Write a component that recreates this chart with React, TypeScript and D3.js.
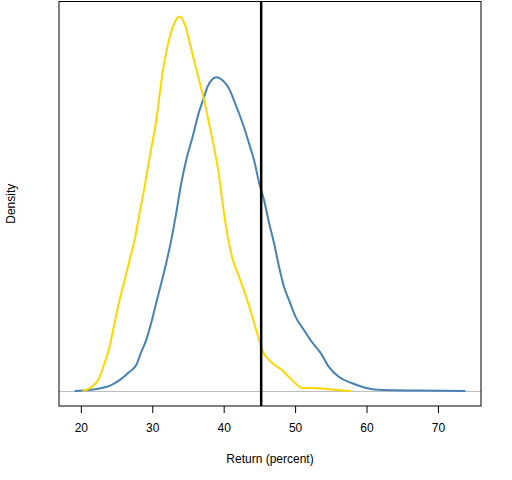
import { useEffect, useRef } from 'react';
import * as d3 from 'd3';

// return (percent) vs estimated density
const goldReturn = [20.25, 21.23, 22.63, 23.32, 24.02, 24.72, 25.42, 26.12, 26.82, 27.51, 28.21, 28.91, 29.61, 30.54, 31.42, 32.4, 33.1, 33.8, 34.5, 35.2, 35.89, 36.59, 37.29, 37.99, 38.69, 39.39, 39.8, 40.5, 41.2, 42.18, 43.3, 44.27, 44.97, 45.39, 46.65, 48.18, 49.58, 50.98, 52.4, 53.77, 55.73, 57.8];
const goldDensity = [0, 0.0005, 0.0027, 0.0054, 0.0085, 0.0131, 0.0175, 0.0213, 0.0252, 0.029, 0.0342, 0.0392, 0.0449, 0.052, 0.0611, 0.068, 0.0709, 0.0722, 0.0709, 0.0674, 0.0635, 0.0597, 0.0559, 0.0513, 0.0467, 0.0411, 0.0367, 0.0303, 0.0257, 0.0219, 0.0175, 0.0131, 0.0098, 0.0079, 0.0056, 0.004, 0.0021, 0.0006, 0.0006, 0.0005, 0.0002, 0];

const blueReturn = [19.13, 21.23, 22.63, 24.02, 25.42, 26.82, 27.75, 28.45, 29.15, 29.85, 30.54, 31.24, 31.94, 32.64, 33.34, 34.04, 34.73, 35.61, 36.59, 37.29, 37.71, 38.41, 38.97, 39.66, 40.78, 41.48, 42.18, 42.88, 43.58, 44.27, 44.97, 45.67, 46.37, 47.07, 47.77, 48.46, 49.16, 50.1, 51.26, 52.38, 53.59, 54.75, 56.15, 57.99, 59.94, 62.18, 67.3, 73.84];
const blueDensity = [0, 0.0002, 0.0005, 0.001, 0.0021, 0.0037, 0.005, 0.0075, 0.0098, 0.0131, 0.0169, 0.0207, 0.0246, 0.029, 0.0342, 0.0399, 0.0444, 0.0488, 0.054, 0.0568, 0.0586, 0.0601, 0.0605, 0.0601, 0.0582, 0.0559, 0.0534, 0.0507, 0.0476, 0.0444, 0.0401, 0.0367, 0.0323, 0.0284, 0.0238, 0.02, 0.0175, 0.0142, 0.0117, 0.0094, 0.0073, 0.0046, 0.0027, 0.0015, 0.0006, 0.0002, 0.0001, 0];

const xTicks = [20, 30, 40, 50, 60, 70];
const actualReturn = 45.25;

export default function App() {
  const svgRef = useRef<SVGSVGElement | null>(null);

  useEffect(() => {
    const svg = svgRef.current;
    if (!svg) return;

    const width = 512;
    const height = 480;
    const box = { left: 59, right: 481, top: 1.5, bottom: 406 };
    const font = 'Arial, "Liberation Sans", sans-serif';

    const allX = [...goldReturn, ...blueReturn];
    const xmin = d3.min(allX)!;
    const xmax = d3.max(allX)!;
    const xpad = (xmax - xmin) * 0.04;
    const x = d3.scaleLinear().domain([xmin - xpad, xmax + xpad]).range([box.left, box.right]);

    const ymax = d3.max([...goldDensity, ...blueDensity])!;
    const y = d3
      .scaleLinear()
      .domain([-ymax * 0.04, ymax * 1.04])
      .range([box.bottom, box.top]);

    const root = d3.select(svg);
    root.selectAll('*').remove();
    root.attr('viewBox', `0 0 ${width} ${height}`);

    root.append('rect').attr('width', width).attr('height', height).attr('fill', '#ffffff');

    // zero line
    root
      .append('line')
      .attr('x1', box.left)
      .attr('x2', box.right)
      .attr('y1', Math.round(y(0)) + 0.5)
      .attr('y2', Math.round(y(0)) + 0.5)
      .attr('stroke', '#bebebe')
      .attr('stroke-width', 1);

    const line = d3
      .line<[number, number]>()
      .x((d) => x(d[0]))
      .y((d) => y(d[1]))
      .curve(d3.curveMonotoneX);

    root
      .append('path')
      .datum(blueReturn.map((v, i) => [v, blueDensity[i]] as [number, number]))
      .attr('fill', 'none')
      .attr('stroke', '#4682b4')
      .attr('stroke-width', 2)
      .attr('d', line as any);

    root
      .append('path')
      .datum(goldReturn.map((v, i) => [v, goldDensity[i]] as [number, number]))
      .attr('fill', 'none')
      .attr('stroke', '#ffd700')
      .attr('stroke-width', 2)
      .attr('d', line as any);

    root
      .append('line')
      .attr('x1', x(actualReturn))
      .attr('x2', x(actualReturn))
      .attr('y1', box.top)
      .attr('y2', box.bottom)
      .attr('stroke', '#000000')
      .attr('stroke-width', 2.5);

    root
      .append('rect')
      .attr('x', box.left)
      .attr('y', box.top)
      .attr('width', box.right - box.left)
      .attr('height', box.bottom - box.top)
      .attr('fill', 'none')
      .attr('stroke', '#000000')
      .attr('stroke-width', 1);

    const axis = root
      .append('g')
      .attr('transform', `translate(0,${box.bottom})`)
      .call(d3.axisBottom(x).tickValues(xTicks).tickSize(7).tickPadding(10).tickFormat(d3.format('d')));
    axis.select('.domain').remove();
    axis.selectAll('line').attr('stroke', '#000000');
    axis
      .selectAll('text')
      .attr('fill', '#000000')
      .attr('font-family', font)
      .attr('font-size', 12);

    root
      .append('text')
      .attr('x', (box.left + box.right) / 2)
      .attr('y', 463)
      .attr('text-anchor', 'middle')
      .attr('font-family', font)
      .attr('font-size', 12)
      .attr('fill', '#000000')
      .text('Return (percent)');

    root
      .append('text')
      .attr('transform', `translate(15,${(box.top + box.bottom) / 2}) rotate(-90)`)
      .attr('text-anchor', 'middle')
      .attr('font-family', font)
      .attr('font-size', 12)
      .attr('fill', '#000000')
      .text('Density');
  }, []);

  return (
    <svg
      ref={svgRef}
      width={512}
      height={480}
      style={{ position: 'absolute', left: 0, top: 0, display: 'block' }}
    />
  );
}
